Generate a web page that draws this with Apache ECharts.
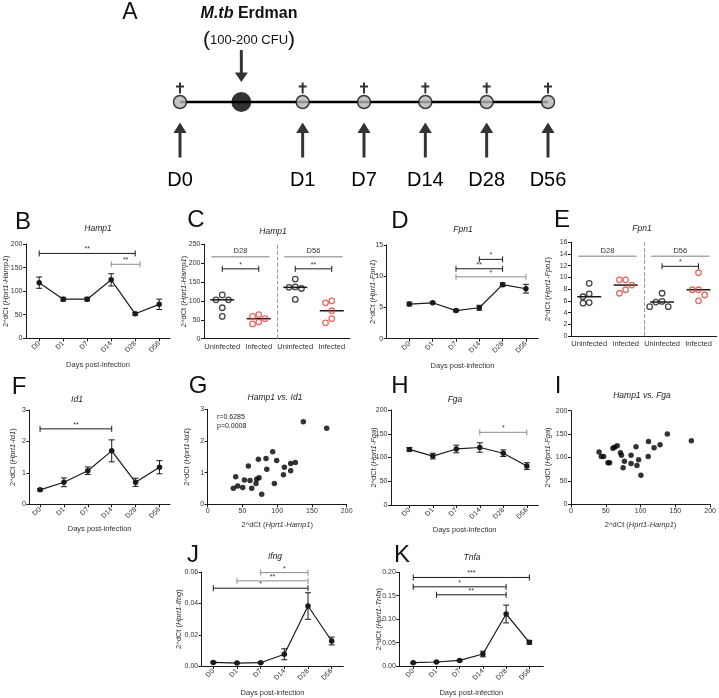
<!DOCTYPE html>
<html>
<head>
<meta charset="utf-8">
<script src="https://cdn.jsdelivr.net/npm/echarts@6/dist/echarts.min.js"></script>
<style>
  html, body { margin: 0; background: #fff; }
  #chart { width: 719px; height: 698px; }
</style>
</head>
<body>
<div id="chart"></div>
<script>
// ---- data ----
const days = ['D0', 'D1', 'D7', 'D14', 'D28', 'D56'];

// timeline (panel A)
const timelineDays = ['D0', 'D1', 'D7', 'D14', 'D28', 'D56'];
const timelineSlots = [0, 2, 3, 4, 5, 6];
const infectionSlot = 1;

// time courses: mean and SEM
const hamp1Mean = [118, 83, 83, 124, 52, 72];
const hamp1Sem = [12, 4, 4, 13, 3, 11];
const fpn1Mean = [5.55, 5.75, 4.5, 4.95, 8.65, 8.0];
const fpn1Sem = [0.3, 0.15, 0.2, 0.4, 0.3, 0.7];
const id1Mean = [0.46, 0.7, 1.07, 1.7, 0.7, 1.18];
const id1Sem = [0.03, 0.14, 0.12, 0.35, 0.13, 0.21];
const fgaMean = [117, 103, 118, 121, 109, 82];
const fgaSem = [4, 6, 8, 10, 7, 7];
const ifngMean = [0.0023, 0.0019, 0.0021, 0.0075, 0.0384, 0.016];
const ifngSem = [0.0005, 0.0004, 0.0004, 0.0035, 0.0085, 0.0025];
const tnfaMean = [0.007, 0.0085, 0.012, 0.0256, 0.111, 0.0505];
const tnfaSem = [0.001, 0.001, 0.0015, 0.006, 0.019, 0.004];

// significance brackets: [from, to, height, stars]
const hamp1Brackets = [[0, 4, 180, '**'], [3, 4.2, 157, '**']];
const fpn1Brackets = [[3, 4, 12.7, '*'], [2, 4, 11.2, '**'], [2, 5, 9.9, '*']];
const id1Brackets = [[0, 3, 2.4, '**']];
const fgaBrackets = [[3, 5, 153, '*']];
const ifngBrackets = [[2, 4, 0.0598, '*'], [1, 4, 0.0545, '**'], [0, 4, 0.0498, '*']];
const tnfaBrackets = [[0, 5, 0.189, '***'], [0, 4, 0.169, '*'], [1, 4, 0.152, '**']];

// individual mice at D28 / D56
const groupLabels = ['Uninfected', 'Infected', 'Uninfected', 'Infected'];
const groupDays = ['D28', 'D56'];
const hamp1Groups = [[116, 103, 103, 82, 59], [64, 59, 53, 39, 44], [158, 136, 133, 137, 104], [95, 100, 74, 42, 53]];
const fpn1Groups = [[9.0, 7.2, 6.7, 5.6, 5.7], [9.6, 9.6, 8.7, 7.9, 7.3], [7.3, 5.8, 5.9, 5.0, 5.0], [10.8, 7.9, 7.9, 7.0, 6.0]];
const hamp1GroupBrackets = [[0, 1, 185, '*'], [2, 3, 185, '**']];
const fpn1GroupBrackets = [[2, 3, 11.9, '*']];

// correlations
const hamp1VsId1 = [[137.6, 2.61], [171.2, 2.40], [93.5, 1.66], [83.9, 1.45], [72.9, 1.42], [99.3, 1.38],
  [58.5, 1.21], [126.1, 1.32], [119.4, 1.29], [110.3, 1.17], [85, 1.11], [119.4, 1.06], [109, 0.93],
  [40.3, 0.87], [73.9, 0.84], [70.5, 0.79], [52.8, 0.77], [60.9, 0.75], [69.5, 0.66], [95.9, 0.66],
  [43.2, 0.58], [50.4, 0.53], [63.3, 0.51], [36.9, 0.51], [77.7, 0.32]];
const hamp1VsFga = [[138.4, 150], [173, 136], [111.4, 134], [128, 127], [119.4, 121], [93.4, 123],
  [66.4, 125], [62.6, 122], [60.2, 120], [40.3, 112], [43.6, 102], [46.9, 102], [71.1, 110],
  [72.5, 105], [86.3, 105], [110.9, 102], [97.2, 95], [76.8, 92], [53.1, 89], [55.5, 89],
  [86.3, 87], [94.8, 83], [74.9, 78], [100.5, 62]];
const id1Stats = 'r=0.6285\np=0.0008';

// ---- styling helpers ----
const FONT = '"Liberation Sans", Arial, sans-serif';
const INK = '#1a1a1a';
const TEXT = '#333';
const GRAY = '#8c8c8c';
const RED = '#e0463c';

const grids = [], xAxes = [], yAxes = [], series = [], graphics = [];

function makeAxis(o) {
  const ax = {
    type: 'value', min: o.min, max: o.max, show: o.show !== false,
    splitLine: { show: false },
    axisLine: { show: o.line !== false, onZero: false, lineStyle: { color: INK, width: 1 } },
    axisTick: { show: o.tick !== false, length: 3, lineStyle: { color: INK, width: 1 } },
    axisLabel: { fontSize: o.fontSize || 7, color: o.labelColor || TEXT, fontFamily: FONT, margin: o.margin || 3.5, rotate: o.rotate || 0 },
    name: o.name || '', nameLocation: 'middle', nameGap: o.nameGap || 20, nameMoveOverlap: false,
    nameTextStyle: { fontSize: 7.5, color: TEXT, fontFamily: FONT,
      rich: { i: { fontStyle: 'italic', fontSize: 7.5, color: TEXT, fontFamily: FONT } } }
  };
  if (o.interval != null) ax.interval = o.interval;
  if (o.ticks) { ax.axisTick.customValues = o.ticks; ax.axisLabel.customValues = o.ticks; }
  if (o.formatter) ax.axisLabel.formatter = o.formatter;
  return ax;
}

function addGrid(box, x, y) {
  const idx = grids.length;
  grids.push(Object.assign({}, box));
  xAxes.push(Object.assign({ gridIndex: idx }, x));
  yAxes.push(Object.assign({ gridIndex: idx }, y));
  return idx;
}

function text(str, x, y, size, opts) {
  opts = opts || {};
  graphics.push({
    type: 'text', x: x, y: y, silent: true,
    style: {
      text: str, fill: opts.fill || '#111', fontSize: size, fontFamily: FONT,
      fontStyle: opts.italic ? 'italic' : 'normal', fontWeight: opts.bold ? 'bold' : 'normal',
      align: opts.align || 'center', verticalAlign: 'middle',
      textAlign: opts.align || 'center', textVerticalAlign: 'middle',
      lineHeight: opts.lineHeight, rich: opts.rich
    }
  });
}

function errorBarItem(params, api) {
  const x = api.value(0);
  const hi = api.coord([x, api.value(2)]);
  const lo = api.coord([x, api.value(1)]);
  const cap = 3;
  const style = { stroke: INK, lineWidth: 1 };
  return { type: 'group', children: [
    { type: 'line', shape: { x1: hi[0], y1: hi[1], x2: lo[0], y2: lo[1] }, style: style },
    { type: 'line', shape: { x1: hi[0] - cap, y1: hi[1], x2: hi[0] + cap, y2: hi[1] }, style: style },
    { type: 'line', shape: { x1: lo[0] - cap, y1: lo[1], x2: lo[0] + cap, y2: lo[1] }, style: style }
  ]};
}

function bracketSeries(g, list, gray) {
  return {
    type: 'custom', xAxisIndex: g, yAxisIndex: g, silent: true, clip: false, z: 4,
    data: list.map(b => [b[0], b[1], b[2]]),
    encode: { x: [0, 1], y: 2 },
    renderItem: function (params, api) {
      const a = api.coord([api.value(0), api.value(2)]);
      const b = api.coord([api.value(1), api.value(2)]);
      const color = (gray || []).indexOf(params.dataIndex) >= 0 ? GRAY : INK;
      const style = { stroke: color, lineWidth: 1 };
      return { type: 'group', children: [
        { type: 'line', shape: { x1: a[0], y1: a[1], x2: b[0], y2: b[1] }, style: style },
        { type: 'line', shape: { x1: a[0], y1: a[1] - 3, x2: a[0], y2: a[1] + 3 }, style: style },
        { type: 'line', shape: { x1: b[0], y1: b[1] - 3, x2: b[0], y2: b[1] + 3 }, style: style },
        { type: 'text', x: (a[0] + b[0]) / 2, y: a[1] - 0.5,
          style: { text: list[params.dataIndex][3], fill: TEXT, fontSize: 7, fontFamily: FONT,
            align: 'center', verticalAlign: 'bottom', textAlign: 'center', textVerticalAlign: 'bottom' } }
      ]};
    }
  };
}

function linePanel(p) {
  const g = addGrid(p.box,
    makeAxis({ min: p.xMin, max: p.xMax, ticks: [0, 1, 2, 3, 4, 5], formatter: v => days[v], rotate: 45,
      margin: 4, name: 'Days post-infection', nameGap: p.xGap }),
    makeAxis({ min: 0, max: p.yMax, interval: p.yStep, formatter: p.yFmt, name: p.yName, nameGap: p.yGap }));
  series.push({
    type: 'custom', xAxisIndex: g, yAxisIndex: g, silent: true, z: 2,
    data: p.mean.map((m, i) => [i, m - p.sem[i], m + p.sem[i]]),
    encode: { x: 0, y: [1, 2] }, renderItem: errorBarItem
  });
  series.push({
    type: 'line', xAxisIndex: g, yAxisIndex: g, silent: true, z: 3,
    data: p.mean.map((m, i) => [i, m]),
    symbol: 'circle', symbolSize: 5.5,
    itemStyle: { color: INK }, lineStyle: { color: INK, width: 1.2 }
  });
  series.push(bracketSeries(g, p.brackets, p.gray));
}

function median(arr) {
  const s = arr.slice().sort((a, b) => a - b);
  const m = Math.floor(s.length / 2);
  return s.length % 2 ? s[m] : (s[m - 1] + s[m]) / 2;
}

// simple beeswarm: spread points sideways when they would overlap
function swarm(values, pxPerUnit, d) {
  const order = values.map((v, i) => i).sort((a, b) => values[b] - values[a]);
  const placed = [];
  const offs = values.map(() => 0);
  order.forEach(i => {
    const y = values[i] * pxPerUnit;
    const cands = [0, -1, 1, -2, 2, -3, 3].map(k => k * d);
    for (const dx of cands) {
      if (placed.every(p => Math.hypot(p.x - dx, p.y - y) >= d - 0.3)) {
        offs[i] = dx; placed.push({ x: dx, y: y }); break;
      }
    }
  });
  return offs;
}

function dotPanel(p) {
  const g = addGrid(p.box,
    makeAxis({ min: -0.5, max: groupLabels.length - 0.5, ticks: [0, 1, 2, 3], formatter: v => groupLabels[v],
      tick: false, margin: 4, fontSize: 7.5 }),
    makeAxis({ min: 0, max: p.yMax, interval: p.yStep, name: p.yName, nameGap: p.yGap }));
  const pxPerUnit = p.box.height / p.yMax;
  const bandPx = p.box.width / groupLabels.length;
  const pts = [[], []];
  p.groups.forEach((vals, gi) => {
    const offs = swarm(vals, pxPerUnit, 6.2);
    vals.forEach((v, k) => pts[gi % 2].push([gi + offs[k] / bandPx, v]));
  });
  // header bars (D28 / D56)
  series.push({
    type: 'custom', xAxisIndex: g, yAxisIndex: g, silent: true, clip: false,
    data: groupDays.map((d, i) => [i * 2 + 0.5, p.headerY]),
    encode: { x: 0, y: 1 },
    renderItem: function (params, api) {
      const a = api.coord([api.value(0) - 0.8, api.value(1)]);
      const b = api.coord([api.value(0) + 0.8, api.value(1)]);
      return { type: 'group', children: [
        { type: 'line', shape: { x1: a[0], y1: a[1], x2: b[0], y2: b[1] }, style: { stroke: '#a8a8a8', lineWidth: 1.5 } },
        { type: 'text', x: (a[0] + b[0]) / 2, y: a[1] - 1.5,
          style: { text: groupDays[params.dataIndex], fill: TEXT, fontSize: 7.5, fontFamily: FONT,
            align: 'center', verticalAlign: 'bottom', textAlign: 'center', textVerticalAlign: 'bottom' } }
      ]};
    }
  });
  // medians
  series.push({
    type: 'custom', xAxisIndex: g, yAxisIndex: g, silent: true,
    data: p.groups.map((vals, gi) => [gi, median(vals)]),
    encode: { x: 0, y: 1 },
    renderItem: function (params, api) {
      const c = api.coord([api.value(0), api.value(1)]);
      return { type: 'line', shape: { x1: c[0] - 12, y1: c[1], x2: c[0] + 12, y2: c[1] },
        style: { stroke: INK, lineWidth: 1.5 } };
    }
  });
  [INK, RED].forEach((col, k) => {
    series.push({
      type: 'scatter', xAxisIndex: g, yAxisIndex: g, silent: true, z: 5,
      data: pts[k], symbol: 'circle', symbolSize: 5.5,
      itemStyle: { color: 'rgba(255,255,255,0)', borderColor: col, borderWidth: 1.3 },
      markLine: k === 0 ? {
        silent: true, symbol: 'none', label: { show: false },
        lineStyle: { type: 'dashed', color: '#9a9a9a', width: 1 },
        data: [{ xAxis: groupLabels.length / 2 - 0.5 }]
      } : undefined
    });
  });
  series.push(bracketSeries(g, p.brackets, []));
}

function scatterPanel(p) {
  const g = addGrid(p.box,
    makeAxis({ min: 0, max: 200, interval: 50, name: '2^dCt ({i|Hprt1-Hamp1})', nameGap: 17 }),
    makeAxis({ min: 0, max: p.yMax, interval: p.yStep, name: p.yName, nameGap: p.yGap }));
  series.push({
    type: 'scatter', xAxisIndex: g, yAxisIndex: g, silent: true,
    data: p.data, symbol: 'circle', symbolSize: 5.5, itemStyle: { color: '#000' }
  });
}

// ---- panel A: timeline ----
const tg = addGrid({ left: 180, width: 368, top: 92, height: 20 },
  makeAxis({ min: 0, max: 6, line: false, tick: false, ticks: timelineSlots,
    formatter: v => timelineDays[timelineSlots.indexOf(v)], fontSize: 20, labelColor: '#000', margin: 58 }),
  makeAxis({ min: -1, max: 1, show: false }));
const arrowUp = 'path://M7,0 L14,12 L8.6,12 L8.6,40 L5.4,40 L5.4,12 L0,12 Z';
const arrowDown = 'path://M5.4,0 L8.6,0 L8.6,28 L14,28 L7,40 L0,28 L5.4,28 Z';
const dagger = 'path://M3,0 L5,0 L5,3 L8,3 L8,5 L5,5 L5,11 L3,11 L3,5 L0,5 L0,3 L3,3 Z';
const stations = timelineSlots.map(s => [s, 0]);
series.push({ type: 'line', xAxisIndex: tg, yAxisIndex: tg, silent: true, symbol: 'none',
  data: [[timelineSlots[0], 0], [timelineSlots[timelineSlots.length - 1], 0]],
  lineStyle: { color: '#000', width: 2.5 } });
series.push({ type: 'scatter', xAxisIndex: tg, yAxisIndex: tg, silent: true, data: stations,
  symbol: dagger, symbolSize: [8, 11], symbolOffset: [0, -14], itemStyle: { color: '#000' } });
series.push({ type: 'scatter', xAxisIndex: tg, yAxisIndex: tg, silent: true, data: stations,
  symbol: arrowUp, symbolSize: [13, 35], symbolOffset: [0, 38], itemStyle: { color: '#000' } });
series.push({ type: 'scatter', xAxisIndex: tg, yAxisIndex: tg, silent: true, data: stations, z: 3,
  symbol: 'circle', symbolSize: 13, itemStyle: { color: '#b5b5b5', borderColor: '#111', borderWidth: 1.5 } });
series.push({ type: 'scatter', xAxisIndex: tg, yAxisIndex: tg, silent: true, data: [[infectionSlot, 0]], z: 3,
  symbol: 'circle', symbolSize: 20, itemStyle: { color: '#000' } });
series.push({ type: 'scatter', xAxisIndex: tg, yAxisIndex: tg, silent: true, data: [[infectionSlot, 0]],
  symbol: arrowDown, symbolSize: [13, 32], symbolOffset: [0, -36], itemStyle: { color: '#000' } });

text('A', 130, 13, 23);
text('{i|M.tb} Erdman', 249, 14, 16, { bold: true,
  rich: { i: { fontStyle: 'italic', fontWeight: 'bold', fontSize: 16, fontFamily: FONT, fill: '#111' } } });
text('{p|(}100-200 CFU{p|)}', 249, 40, 13,
  { rich: { p: { fontSize: 21, fontFamily: FONT, fill: '#111' } } });

// ---- time-course panels ----
linePanel({ box: { left: 26, top: 244, width: 144, height: 94.3 }, xMin: -0.55, xMax: 5.45,
  yMax: 200, yStep: 50, yName: '2^dCt ({i|Hprt1-Hamp1})', yGap: 16.5, xGap: 23,
  mean: hamp1Mean, sem: hamp1Sem, brackets: hamp1Brackets, gray: [1] });
linePanel({ box: { left: 386.7, top: 245, width: 151.6, height: 93.7 }, xMin: -0.97, xMax: 5.53,
  yMax: 15, yStep: 5, yName: '2^dCt ({i|Hprt1-Fpn1})', yGap: 10, xGap: 23,
  mean: fpn1Mean, sem: fpn1Sem, brackets: fpn1Brackets, gray: [2] });
linePanel({ box: { left: 29.3, top: 410, width: 140.7, height: 94.3 }, xMin: -0.45, xMax: 5.44,
  yMax: 3, yStep: 1, yName: '2^dCt ({i|Hprt1-Id1})', yGap: 12.5, xGap: 21,
  mean: id1Mean, sem: id1Sem, brackets: id1Brackets, gray: [] });
linePanel({ box: { left: 391, top: 410, width: 147.3, height: 95 }, xMin: -0.78, xMax: 5.49,
  yMax: 200, yStep: 50, yName: '2^dCt ({i|Hprt1-Fga})', yGap: 13.5, xGap: 21,
  mean: fgaMean, sem: fgaSem, brackets: fgaBrackets, gray: [0] });
linePanel({ box: { left: 201.7, top: 572.3, width: 141.6, height: 93.7 }, xMin: -0.49, xMax: 5.49,
  yMax: 0.06, yStep: 0.02, yFmt: v => v.toFixed(2), yName: '2^dCt ({i|Hprt1-Ifng})', yGap: 19, xGap: 23,
  mean: ifngMean, sem: ifngSem, brackets: ifngBrackets, gray: [0, 1] });
linePanel({ box: { left: 399.3, top: 572.3, width: 144, height: 93.7 }, xMin: -0.6, xMax: 5.6,
  yMax: 0.2, yStep: 0.05, yFmt: v => v.toFixed(2), yName: '2^dCt ({i|Hprt1-Tnfa})', yGap: 16.5, xGap: 23,
  mean: tnfaMean, sem: tnfaSem, brackets: tnfaBrackets, gray: [] });

// ---- dot panels ----
dotPanel({ box: { left: 204, top: 244.3, width: 146, height: 94.4 }, yMax: 250, yStep: 50,
  yName: '2^dCt ({i|Hprt1-Hamp1})', yGap: 16.5, groups: hamp1Groups, headerY: 217, brackets: hamp1GroupBrackets });
dotPanel({ box: { left: 571, top: 242.3, width: 145.7, height: 93.7 }, yMax: 16, yStep: 2,
  yName: '2^dCt ({i|Hprt1-Fpn1})', yGap: 19.5, groups: fpn1Groups, headerY: 13.6, brackets: fpn1GroupBrackets });

// ---- correlation panels ----
scatterPanel({ box: { left: 207.7, top: 409.3, width: 139, height: 95 }, yMax: 3, yStep: 1,
  yName: '2^dCt ({i|Hprt1-Id1})', yGap: 17, data: hamp1VsId1 });
scatterPanel({ box: { left: 571, top: 410.7, width: 140.7, height: 93.6 }, yMax: 200, yStep: 50,
  yName: '2^dCt ({i|Hprt1-Fga})', yGap: 19.5, data: hamp1VsFga });

// ---- letters and titles ----
[['B', 23, 222], ['C', 196, 220], ['D', 400, 221], ['E', 562, 220], ['F', 19, 387],
 ['G', 198, 386], ['H', 400, 386], ['I', 558, 386], ['J', 193, 555], ['K', 402, 555]]
  .forEach(l => text(l[0], l[1], l[2], 24));
[['Hamp1', 98, 229], ['Hamp1', 273, 232], ['Fpn1', 463, 230], ['Fpn1', 642, 229], ['Id1', 77, 400],
 ['Hamp1 vs. Id1', 275, 398], ['Fga', 455, 400], ['Hamp1 vs. Fga', 642, 396], ['Ifng', 275, 557], ['Tnfa', 472, 558]]
  .forEach(t => text(t[0], t[1], t[2], 8.5, { italic: true, fill: '#222' }));
text(id1Stats, 217, 421.5, 7, { align: 'left', fill: '#222', lineHeight: 9 });

const chart = echarts.init(document.getElementById('chart'), null, { renderer: 'canvas' });
chart.setOption({
  backgroundColor: '#fff',
  animation: false,
  grid: grids,
  xAxis: xAxes,
  yAxis: yAxes,
  series: series,
  graphic: graphics
});
</script>
</body>
</html>
